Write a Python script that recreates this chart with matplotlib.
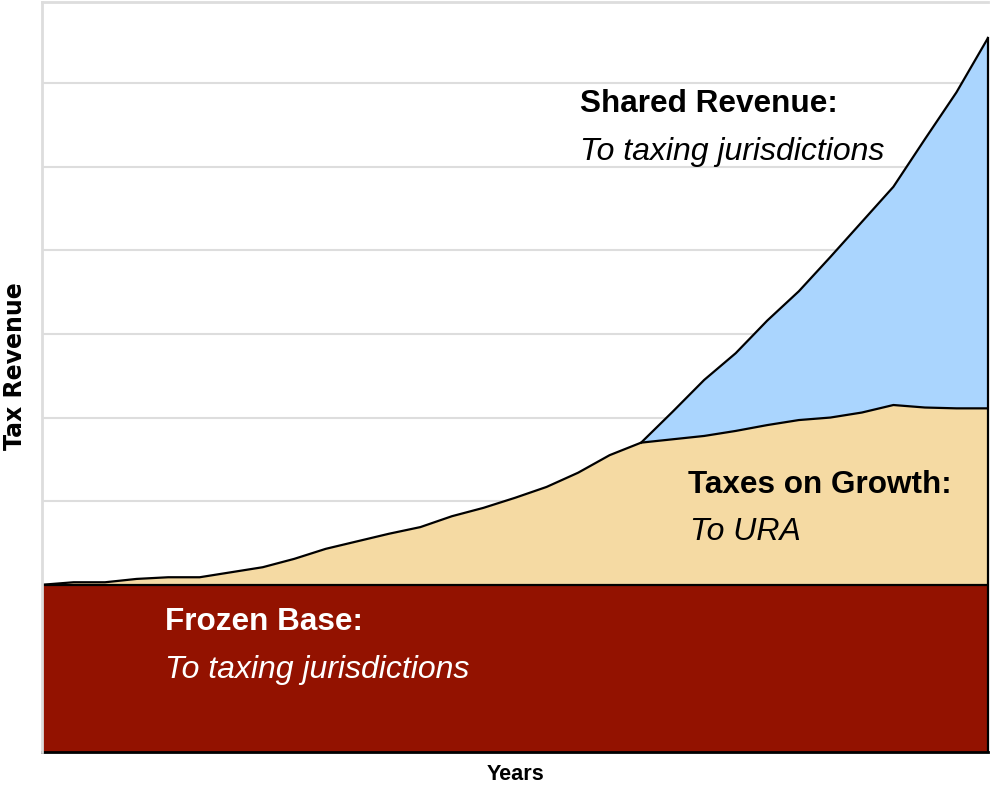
import matplotlib
matplotlib.use("Agg")
import matplotlib.pyplot as plt
import numpy as np

years = list(range(0, 31))
frozen_base = [2.0] * 31
growth_top = [2.00, 2.03, 2.03, 2.07, 2.09, 2.09, 2.15, 2.21, 2.31, 2.43, 2.52,
              2.61, 2.69, 2.82, 2.92, 3.04, 3.17, 3.34, 3.55, 3.70, 3.74,
              3.78, 3.84, 3.91, 3.97, 4.00, 4.06, 4.15, 4.12, 4.11, 4.11]
shared_years = list(range(19, 31))
shared_top = [3.70, 4.07, 4.45, 4.77, 5.16, 5.51, 5.92, 6.34, 6.76, 7.33, 7.89, 8.54]

c_base = "#931200"
c_growth = "#F5DAA3"
c_shared = "#AAD5FE"
grid_c = "#DDDDDD"

narrow = ["Liberation Sans Narrow", "Liberation Sans", "DejaVu Sans"]

fig = plt.figure(figsize=(9.92, 7.89), dpi=100)
ax = fig.add_axes([42 / 992, (789 - 752) / 789, (988 - 42) / 992, (752 - 2) / 789])

ax.set_xlim(years[0], years[-1])
ax.set_ylim(0, 8.97)

for g in range(1, 9):
    ax.axhline(g, color=grid_c, lw=1.5, zorder=0)

yrs = np.array(years)
gt = np.array(growth_top)
sy = np.array(shared_years)
st = np.array(shared_top)
sb = gt[sy - yrs[0]]

ax.fill_between(yrs, 0, frozen_base, color=c_base, lw=0, zorder=2)
ax.fill_between(yrs, frozen_base, gt, color=c_growth, lw=0, zorder=2)
ax.fill_between(sy, sb, st, color=c_shared, lw=0, zorder=2)

ax.plot(yrs, gt, color="black", lw=1.6, zorder=4)
ax.plot(sy, st, color="black", lw=1.6, zorder=4)
ax.plot(yrs, frozen_base, color="black", lw=1.6, zorder=4)
ax.plot([yrs[-1], yrs[-1]], [0, st[-1]], color="black", lw=1.6, zorder=4, clip_on=False)

for s in ["left", "top"]:
    ax.spines[s].set_color(grid_c)
    ax.spines[s].set_linewidth(2)
ax.spines["right"].set_visible(False)
ax.spines["bottom"].set_color("black")
ax.spines["bottom"].set_linewidth(2)
ax.spines["left"].set_zorder(5)
ax.set_xticks([])
ax.set_yticks([])

def px(xp, yp):
    return (xp / 992, 1 - yp / 789)

fig.text(*px(580, 112), "Shared Revenue:", family=narrow, weight="bold", fontsize=22.7, color="black", va="baseline")
fig.text(*px(580, 160), "To taxing jurisdictions", family=narrow, style="italic", fontsize=23, color="black", va="baseline")

fig.text(*px(688, 493), "Taxes on Growth:", family=narrow, weight="bold", fontsize=22.7, color="black", va="baseline")
fig.text(*px(690, 540), "To URA", family=narrow, style="italic", fontsize=23, color="black", va="baseline")

fig.text(*px(165, 630), "Frozen Base:", family=narrow, weight="bold", fontsize=22.7, color="white", va="baseline")
fig.text(*px(165, 678), "To taxing jurisdictions", family=narrow, style="italic", fontsize=23, color="white", va="baseline")

fig.text(*px(15, 366), "Tax Revenue", family=["DejaVu Sans"], weight="heavy", fontsize=17,
         rotation=90, ha="center", va="center", color="black")
fig.text(*px(516, 774), "Years", family=narrow, weight="bold", fontsize=15.6,
         ha="center", va="center", color="black")

fig.savefig("out.png", dpi=100)
